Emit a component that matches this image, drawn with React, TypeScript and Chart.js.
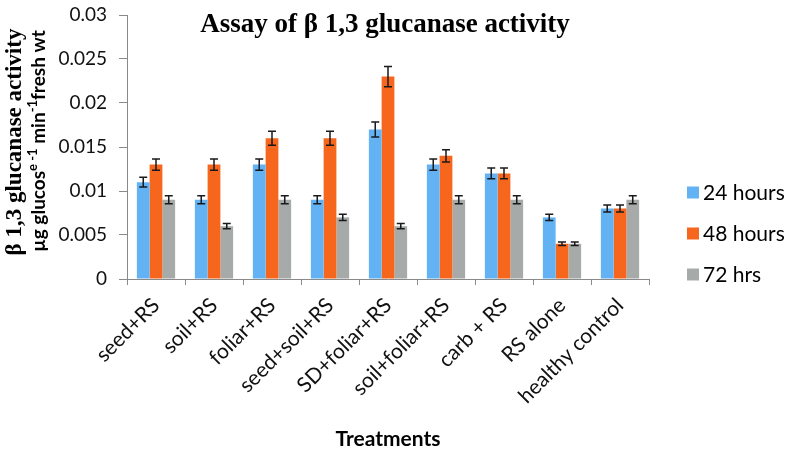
import React, { useEffect, useRef } from "react";
import { Chart, registerables } from "chart.js";
Chart.register(...registerables);

const categories = ["seed+RS", "soil+RS", "foliar+RS", "seed+soil+RS", "SD+foliar+RS", "soil+foliar+RS", "carb + RS", "RS alone", "healthy control"];
const hours24 = [0.011, 0.009, 0.013, 0.009, 0.017, 0.013, 0.012, 0.007, 0.008];
const hours48 = [0.013, 0.013, 0.016, 0.016, 0.023, 0.014, 0.012, 0.004, 0.008];
const hrs72 = [0.009, 0.006, 0.009, 0.007, 0.006, 0.009, 0.009, 0.004, 0.009];
const err24 = [0.00055, 0.00045, 0.00065, 0.00045, 0.00085, 0.00065, 0.0006, 0.00035, 0.0004];
const err48 = [0.00065, 0.00065, 0.0008, 0.0008, 0.00115, 0.0007, 0.0006, 0.0002, 0.0004];
const err72 = [0.00045, 0.0003, 0.00045, 0.00035, 0.0003, 0.00045, 0.00045, 0.0002, 0.00045];
const seriesLabels = ["24 hours", "48 hours", "72 hrs"];
const seriesColors = ["#62B2F4", "#F7661D", "#A6ABAA"];
const yTickLabels = ["0", "0.005", "0.01", "0.015", "0.02", "0.025", "0.03"];
const chartTitle = "Assay of β 1,3 glucanase activity";
const yTitleLine1 = "β 1,3 glucanase activity";
const yTitleLine2 = [
  { t: "µg glucos", sup: false },
  { t: "e -1", sup: true },
  { t: " min", sup: false },
  { t: "-1", sup: true },
  { t: "fresh wt", sup: false },
];
const xTitle = "Treatments";

const SANS = "Lato, 'Open Sans', sans-serif";
const SERIF = "'Liberation Serif', 'DejaVu Serif', serif";

export default function App() {
  const ref = useRef<HTMLCanvasElement | null>(null);
  useEffect(() => {
    if (!ref.current) return;
    const errs = [err24, err48, err72];
    const errorBars = {
      id: "errorBars",
      afterDatasetsDraw(chart: any) {
        const ctx = chart.ctx;
        const ys = chart.scales.y;
        ctx.save();
        ctx.strokeStyle = "#1a1a1a";
        ctx.lineWidth = 1.5;
        chart.data.datasets.forEach((ds: any, i: number) => {
          const meta = chart.getDatasetMeta(i);
          meta.data.forEach((el: any, j: number) => {
            const v = ds.data[j];
            const e = errs[i][j];
            const yt = ys.getPixelForValue(v + e);
            const yb = ys.getPixelForValue(v - e);
            const x = el.x;
            ctx.beginPath();
            ctx.moveTo(x, yt); ctx.lineTo(x, yb);
            ctx.moveTo(x - 4, yt); ctx.lineTo(x + 4, yt);
            ctx.moveTo(x - 4, yb); ctx.lineTo(x + 4, yb);
            ctx.stroke();
          });
        });
        ctx.restore();
      },
    };
    const texts = {
      id: "texts",
      afterDraw(chart: any) {
        const ctx = chart.ctx;
        const ca = chart.chartArea;
        ctx.save();
        ctx.fillStyle = "#000";
        // title
        ctx.font = "bold 27px " + SERIF;
        ctx.textAlign = "center";
        ctx.textBaseline = "alphabetic";
        ctx.fillText(chartTitle, (ca.left + ca.right) / 2 - 3, 32);
        // x title
        ctx.font = "bold 21px " + SANS;
        ctx.fillText(xTitle, (ca.left + ca.right) / 2, 446);
        // y title line 1
        ctx.textBaseline = "middle";
        ctx.save();
        ctx.translate(15, 142);
        ctx.rotate(-Math.PI / 2);
        ctx.font = "bold 23px " + SERIF;
        ctx.fillText(yTitleLine1, 0, 0);
        ctx.restore();
        // y title line 2
        ctx.save();
        ctx.translate(39, 141);
        ctx.rotate(-Math.PI / 2);
        ctx.textAlign = "left";
        const big = "bold 19px " + SANS;
        const small = "bold 13px " + SANS;
        let total = 0;
        yTitleLine2.forEach((s) => {
          ctx.font = s.sup ? small : big;
          total += ctx.measureText(s.t).width;
        });
        let x = -total / 2;
        yTitleLine2.forEach((s) => {
          ctx.font = s.sup ? small : big;
          ctx.fillText(s.t, x, s.sup ? -6 : 0);
          x += ctx.measureText(s.t).width;
        });
        ctx.restore();
        // legend
        ctx.font = "21px " + SANS;
        ctx.textAlign = "left";
        chart.data.datasets.forEach((ds: any, i: number) => {
          const cy = 192.5 + i * 41;
          ctx.fillStyle = ds.backgroundColor;
          ctx.fillRect(687, cy - 6, 12, 12);
          ctx.fillStyle = "#000";
          ctx.fillText(ds.label, 703, cy + 1);
        });
        ctx.restore();
      },
    };
    const chart = new Chart(ref.current, {
      type: "bar",
      data: {
        labels: categories,
        datasets: [
          { label: seriesLabels[0], data: hours24, backgroundColor: seriesColors[0] },
          { label: seriesLabels[1], data: hours48, backgroundColor: seriesColors[1] },
          { label: seriesLabels[2], data: hrs72, backgroundColor: seriesColors[2] },
        ],
      },
      options: {
        responsive: false,
        animation: false,
        layout: { padding: { left: 0, right: 137, top: 15, bottom: 0 } },
        plugins: { legend: { display: false }, title: { display: false }, tooltip: { enabled: false } },
        datasets: { bar: { barPercentage: 1, categoryPercentage: 0.66 } },
        scales: {
          x: {
            grid: { display: true, drawOnChartArea: false, drawTicks: true, tickLength: 6, color: "#8a8a8a", offset: true },
            border: { color: "#8a8a8a", width: 1 },
            ticks: { minRotation: 45, maxRotation: 45, color: "#111", font: { family: SANS, size: 21 }, padding: 8 },
            afterFit(scale: any) {
              scale.height = 173;
              scale.paddingLeft = 0;
              scale.paddingRight = 0;
            },
          },
          y: {
            min: 0,
            max: 0.03,
            grid: { display: true, drawOnChartArea: false, drawTicks: true, tickLength: 8, color: "#8a8a8a" },
            border: { color: "#8a8a8a", width: 1 },
            ticks: {
              stepSize: 0.005,
              color: "#111",
              font: { family: SANS, size: 19 },
              padding: 12,
              callback: (_v: any, i: number) => yTickLabels[i],
            },
            afterFit(scale: any) {
              scale.width = 127;
              scale.paddingTop = 0;
              scale.paddingBottom = 0;
            },
          },
        },
      } as any,
      plugins: [errorBars, texts],
    });
    return () => chart.destroy();
  }, []);
  return (
    <div style={{ position: "absolute", left: 0, top: 0, width: 786, height: 452, background: "#fff" }}>
      <canvas ref={ref} width={786} height={452} />
    </div>
  );
}
